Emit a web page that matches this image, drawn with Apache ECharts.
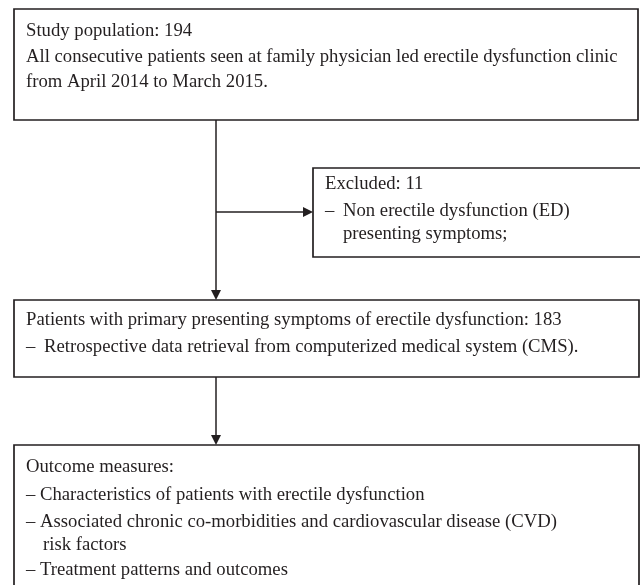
<!DOCTYPE html>
<html>
<head>
<meta charset="utf-8">
<script src="https://cdn.jsdelivr.net/npm/echarts@6/dist/echarts.min.js"></script>
<style>
html,body{margin:0;padding:0;background:#fff;}
#main{width:640px;height:585px;}
</style>
</head>
<body>
<div id="main"></div>
<script>
// 流程各步骤的文字与人数
var stepTitles = ['Study population', 'Excluded', 'Patients with primary presenting symptoms of erectile dysfunction', 'Outcome measures'];
var stepCounts = [194, 11, 183, null];
var stepNotes = [
	['All consecutive patients seen at family physician led erectile dysfunction clinic', 'from April 2014 to March 2015.'],
	['Non erectile dysfunction (ED)', 'presenting symptoms;'],
	['Retrospective data retrieval from computerized medical system (CMS).'],
	['Characteristics of patients with erectile dysfunction', 'Associated chronic co-morbidities and cardiovascular disease (CVD)', 'risk factors', 'Treatment patterns and outcomes']
];
// 每行是否带破折号 (0 无, 1 宽间距, 2 紧凑, 3 续行缩进)
var noteDash = [[0, 0], [1, 3], [1], [2, 2, 3, 2]];

// 版面: 框位置 [x0, y0, x1, y1], 以像素为坐标
var boxes = [[14, 9, 638, 120], [313, 168, 645, 257], [14, 300, 639, 377], [14, 445, 639, 592]];
var lineY = [[31, 57, 82], [184, 211, 234], [320, 347], [467, 495, 522, 545, 570]];
// 箭头 [x0, y0, x1, y1]
var arrows = [[216, 120, 216, 300], [216, 212, 313, 212], [216, 377, 216, 445]];

var FONT = '"Liberation Serif", "DejaVu Serif", serif';
var FS = 18.7;
var INK = '#231f20';

function boxText(i) {
	var out = [];
	var t = stepTitles[i] + (stepCounts[i] != null ? ': ' + stepCounts[i] : ':');
	out.push({ text: t, dash: 0 });
	for (var k = 0; k < stepNotes[i].length; k++) {
		out.push({ text: stepNotes[i][k], dash: noteDash[i][k] });
	}
	return out;
}

var boxData = [];
for (var i = 0; i < boxes.length; i++) boxData.push([i]);
var arrowData = [];
for (var j = 0; j < arrows.length; j++) arrowData.push([j]);

var myChart = echarts.init(document.getElementById('main'), null, { renderer: 'canvas' });
var option = {
	animation: false,
	grid: { left: 0, right: 0, top: 0, bottom: 0 },
	xAxis: { type: 'value', min: 0, max: 640, show: false },
	yAxis: { type: 'value', min: 0, max: 585, inverse: true, show: false },
	series: [
		{
			type: 'custom',
			data: boxData,
			renderItem: function (params, api) {
				var i = api.value(0);
				var b = boxes[i];
				var p0 = api.coord([b[0], b[1]]);
				var p1 = api.coord([b[2], b[3]]);
				var children = [{
					type: 'rect',
					shape: { x: p0[0], y: p0[1], width: p1[0] - p0[0], height: p1[1] - p0[1] },
					style: { fill: '#fff', stroke: INK, lineWidth: 1.7 }
				}];
				var lines = boxText(i);
				var tx = p0[0] + 12;
				for (var k = 0; k < lines.length; k++) {
					var y = api.coord([0, lineY[i][k]])[1];
					var ln = lines[k];
					var x = tx;
					var txt = ln.text;
					if (ln.dash === 1) {
						children.push({ type: 'text', style: { text: '–', x: tx, y: y, font: FS + 'px ' + FONT, fill: INK, verticalAlign: 'middle' } });
						x = tx + 18;
					} else if (ln.dash === 2) {
						txt = '– ' + txt;
					} else if (ln.dash === 3) {
						x = (i === 3) ? tx + 17 : tx + 18;
					}
					children.push({ type: 'text', style: { text: txt, x: x, y: y, font: FS + 'px ' + FONT, fill: INK, verticalAlign: 'middle' } });
				}
				return { type: 'group', children: children };
			}
		},
		{
			type: 'custom',
			data: arrowData,
			renderItem: function (params, api) {
				var a = arrows[api.value(0)];
				var s = api.coord([a[0], a[1]]);
				var e = api.coord([a[2], a[3]]);
				var dx = e[0] - s[0], dy = e[1] - s[1];
				var len = Math.sqrt(dx * dx + dy * dy);
				var ux = dx / len, uy = dy / len;
				var hl = 10, hw = 5;
				var bx = e[0] - ux * hl, by = e[1] - uy * hl;
				return {
					type: 'group',
					children: [
						{ type: 'line', shape: { x1: s[0], y1: s[1], x2: bx, y2: by }, style: { stroke: INK, lineWidth: 1.5 } },
						{ type: 'polygon', shape: { points: [[e[0], e[1]], [bx - uy * hw, by + ux * hw], [bx + uy * hw, by - ux * hw]] }, style: { fill: INK } }
					]
				};
			}
		}
	]
};
myChart.setOption(option);
window.onresize = myChart.resize;
</script>
</body>
</html>
